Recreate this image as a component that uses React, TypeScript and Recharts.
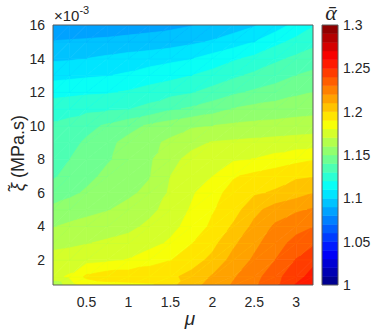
import React from "react";
import { Scatter, ScatterChart, XAxis, YAxis } from "recharts";

// grid (mu along x, xi in 1e-3 MPa.s along y)
const MU = [0.1, 0.3, 0.5, 0.75, 1, 1.25, 1.5, 1.75, 2, 2.25, 2.5, 2.75, 3, 3.2];
const XI = [0.5, 1, 2, 3, 4, 5, 6, 7, 8, 9, 10, 11, 12, 13, 14, 15, 16];

// one row per XI value (bottom to top), one entry per MU value
const ALPHA_ROWS = [
  [1.16, 1.176, 1.184, 1.186, 1.187, 1.188, 1.197, 1.206, 1.214, 1.221, 1.228, 1.238, 1.251, 1.258],
  [1.178, 1.181, 1.192, 1.196, 1.196, 1.197, 1.198, 1.203, 1.211, 1.219, 1.226, 1.237, 1.246, 1.254],
  [1.174, 1.175, 1.1765, 1.178, 1.1805, 1.1855, 1.1895, 1.1955, 1.2025, 1.2135, 1.2215, 1.23, 1.2405, 1.247],
  [1.1668, 1.168, 1.1695, 1.1715, 1.1735, 1.1765, 1.1815, 1.1895, 1.197, 1.208, 1.2175, 1.2255, 1.2335, 1.2382],
  [1.1595, 1.1615, 1.163, 1.1655, 1.1675, 1.172, 1.177, 1.1835, 1.192, 1.2013, 1.2125, 1.2215, 1.2263, 1.2296],
  [1.153, 1.1555, 1.1575, 1.1595, 1.1625, 1.1675, 1.1735, 1.181, 1.189, 1.1955, 1.207, 1.2145, 1.2185, 1.2208],
  [1.1435, 1.1475, 1.1515, 1.1555, 1.1585, 1.162, 1.1715, 1.1785, 1.1865, 1.1935, 1.1985, 1.2012, 1.2055, 1.2098],
  [1.139, 1.1425, 1.147, 1.1525, 1.1565, 1.1595, 1.17, 1.1755, 1.18, 1.189, 1.1925, 1.1955, 1.1985, 1.1994],
  [1.1364, 1.14, 1.1445, 1.149, 1.1535, 1.1585, 1.1675, 1.1725, 1.1755, 1.1785, 1.1803, 1.1835, 1.187, 1.1892],
  [1.1338, 1.137, 1.1415, 1.1475, 1.153, 1.1575, 1.162, 1.1675, 1.1705, 1.1715, 1.1725, 1.1735, 1.1745, 1.175],
  [1.1312, 1.133, 1.137, 1.1415, 1.1465, 1.1515, 1.155, 1.1585, 1.16, 1.1615, 1.1625, 1.163, 1.164, 1.1648],
  [1.1256, 1.1265, 1.1275, 1.1285, 1.1295, 1.133, 1.1385, 1.1415, 1.1455, 1.1505, 1.153, 1.1545, 1.156, 1.1567],
  [1.1166, 1.1175, 1.1185, 1.119, 1.121, 1.124, 1.1265, 1.129, 1.1335, 1.138, 1.1415, 1.1445, 1.148, 1.15],
  [1.1066, 1.1075, 1.1085, 1.1095, 1.1115, 1.1145, 1.117, 1.1198, 1.1235, 1.128, 1.132, 1.1355, 1.14, 1.1424],
  [1.0985, 1.099, 1.1, 1.102, 1.104, 1.1055, 1.1075, 1.1095, 1.114, 1.1185, 1.1225, 1.128, 1.132, 1.135],
  [1.0905, 1.091, 1.0915, 1.092, 1.093, 1.094, 1.0955, 1.098, 1.101, 1.105, 1.11, 1.117, 1.123, 1.127],
  [1.082, 1.083, 1.0835, 1.0845, 1.0855, 1.0865, 1.0875, 1.0895, 1.092, 1.095, 1.099, 1.105, 1.113, 1.119],
];

const X_TICKS = [0.5, 1, 1.5, 2, 2.5, 3];
const Y_TICKS = [2, 4, 6, 8, 10, 12, 14, 16];
const CB_TICKS = [1, 1.05, 1.1, 1.15, 1.2, 1.25, 1.3];

const MU_DOMAIN: [number, number] = [0.1, 3.2];
const XI_DOMAIN: [number, number] = [0.5, 16];
const CB_DOMAIN: [number, number] = [1, 1.3];
const LEVEL_MIN = 1;
const LEVEL_STEP = 0.01;
const LEVEL_COUNT = 30;

// layout
const W = 374;
const H = 334;
const PLOT_W = 260;
const PLOT_H = 260;
const CB_W = 16;
const PX_PER_MU = PLOT_W / (MU_DOMAIN[1] - MU_DOMAIN[0]);
const PX_PER_XI = PLOT_H / (XI_DOMAIN[1] - XI_DOMAIN[0]);
const TEXT = "#262626";
const LINE = "#5a5a5a";
const FONT = "'Liberation Sans', Arial, sans-serif";

const colorbarCells = Array.from({ length: LEVEL_COUNT }, (_, k) => ({
  x: 0.5,
  level: LEVEL_MIN + (k + 0.5) * LEVEL_STEP,
  k,
}));

function jet(t: number) {
  const c = (x: number) => Math.round(255 * Math.max(0, Math.min(1, x)));
  return `rgb(${c(1.5 - Math.abs(4 * t - 3))},${c(1.5 - Math.abs(4 * t - 2))},${c(1.5 - Math.abs(4 * t - 1))})`;
}
const bandColor = (k: number) => jet((k + 0.5) / LEVEL_COUNT);

function bandOf(v: number) {
  const k = Math.floor((v - LEVEL_MIN) / LEVEL_STEP + 1e-9);
  return Math.max(0, Math.min(LEVEL_COUNT - 1, k));
}

type Pt = { x: number; y: number; v: number };

// part of a polygon where the (linear) value is >= level
function clipAbove(poly: Pt[], level: number): Pt[] {
  const out: Pt[] = [];
  for (let k = 0; k < poly.length; k++) {
    const a = poly[k];
    const b = poly[(k + 1) % poly.length];
    const da = a.v - level;
    const db = b.v - level;
    if (da >= 0) out.push(a);
    if (da >= 0 !== db >= 0) {
      const t = da / (da - db);
      out.push({ x: a.x + (b.x - a.x) * t, y: a.y + (b.y - a.y) * t, v: level });
    }
  }
  return out;
}

function triangleBands(tri: Pt[], key: string) {
  const vs = tri.map((p) => p.v);
  const lo = bandOf(Math.min(...vs));
  const hi = bandOf(Math.max(...vs));
  const out: React.ReactNode[] = [];
  for (let k = lo; k <= hi; k++) {
    const poly = k === lo ? tri : clipAbove(tri, LEVEL_MIN + k * LEVEL_STEP);
    if (poly.length < 3) continue;
    const color = bandColor(k);
    out.push(
      <polygon
        key={key + k}
        points={poly.map((p) => `${p.x},${p.y}`).join(" ")}
        fill={color}
        stroke={color}
        strokeWidth={0.7}
        strokeLinejoin="round"
      />
    );
  }
  return out;
}

const cells = XI.slice(0, -1).flatMap((xi, j) =>
  MU.slice(0, -1).map((mu, i) => ({ mu, xi, i, j }))
);

function ContourCell(props: any) {
  const { cx, cy, payload } = props;
  const { i, j } = payload;
  const w = (MU[i + 1] - MU[i]) * PX_PER_MU;
  const h = (XI[j + 1] - XI[j]) * PX_PER_XI;
  const p00 = { x: cx, y: cy, v: ALPHA_ROWS[j][i] };
  const p10 = { x: cx + w, y: cy, v: ALPHA_ROWS[j][i + 1] };
  const p11 = { x: cx + w, y: cy - h, v: ALPHA_ROWS[j + 1][i + 1] };
  const p01 = { x: cx, y: cy - h, v: ALPHA_ROWS[j + 1][i] };
  return (
    <g>
      {triangleBands([p00, p10, p11], `a${i}-${j}-`)}
      {triangleBands([p00, p11, p01], `b${i}-${j}-`)}
    </g>
  );
}

function ColorbarCell(props: any) {
  const { cx, cy, payload } = props;
  const h = PLOT_H / LEVEL_COUNT;
  const color = bandColor(payload.k);
  return (
    <rect x={cx - CB_W / 2} y={cy - h / 2} width={CB_W} height={h} fill={color} stroke={color} strokeWidth={0.5} />
  );
}

const tickStyle = { fill: TEXT, fontSize: 14, fontFamily: FONT };
const layer = { position: "absolute" as const, left: 0, top: 0 };

export default function App() {
  return (
    <div style={{ position: "absolute", left: 0, top: 0, width: W, height: H, background: "#fff", fontFamily: FONT }}>
      {/* filled contours + tick labels */}
      <div style={layer}>
        <ScatterChart width={W} height={H} margin={{ top: 25, right: 61, bottom: 0, left: 0 }}>
          <XAxis
            dataKey="mu"
            type="number"
            domain={MU_DOMAIN}
            ticks={X_TICKS}
            allowDataOverflow
            height={49}
            tickLine={false}
            axisLine={false}
            tickSize={0}
            tickMargin={12}
            tick={tickStyle}
          />
          <YAxis
            dataKey="xi"
            type="number"
            domain={XI_DOMAIN}
            ticks={Y_TICKS}
            allowDataOverflow
            width={53}
            tickLine={false}
            axisLine={false}
            tickSize={0}
            tickMargin={8}
            tick={tickStyle}
          />
          <Scatter data={cells} shape={ContourCell} isAnimationActive={false} />
        </ScatterChart>
      </div>

      {/* colorbar */}
      <div style={layer}>
        <ScatterChart width={W} height={H} margin={{ top: 25, right: 0, bottom: 49, left: 322 }}>
          <XAxis dataKey="x" type="number" domain={[0, 1]} allowDataOverflow hide />
          <YAxis
            dataKey="level"
            orientation="right"
            type="number"
            domain={CB_DOMAIN}
            ticks={CB_TICKS}
            allowDataOverflow
            width={36}
            tickLine={false}
            axisLine={false}
            tickSize={0}
            tickMargin={5}
            tick={tickStyle}
          />
          <Scatter data={colorbarCells} shape={ColorbarCell} isAnimationActive={false} />
        </ScatterChart>
      </div>

      {/* main axes box with inward ticks, drawn over the contours */}
      <div style={layer}>
        <ScatterChart width={W} height={H} margin={{ top: 24, right: 60, bottom: 48, left: 52 }}>
          <XAxis xAxisId="b" type="number" domain={MU_DOMAIN} allowDataOverflow ticks={X_TICKS} height={1} tickSize={-3} tick={false} stroke={LINE} />
          <XAxis xAxisId="t" orientation="top" type="number" domain={MU_DOMAIN} allowDataOverflow ticks={X_TICKS} height={1} tickSize={-3} tick={false} stroke={LINE} />
          <YAxis yAxisId="l" type="number" domain={XI_DOMAIN} allowDataOverflow ticks={Y_TICKS} width={1} tickSize={-3} tick={false} stroke={LINE} />
          <YAxis yAxisId="r" orientation="right" type="number" domain={XI_DOMAIN} allowDataOverflow ticks={Y_TICKS} width={1} tickSize={-3} tick={false} stroke={LINE} />
        </ScatterChart>
      </div>

      {/* colorbar box with inward ticks */}
      <div style={layer}>
        <ScatterChart width={W} height={H} margin={{ top: 24, right: 35, bottom: 48, left: 321 }}>
          <XAxis xAxisId="b" type="number" domain={[0, 1]} allowDataOverflow height={1} tick={false} tickLine={false} stroke={LINE} />
          <XAxis xAxisId="t" orientation="top" type="number" domain={[0, 1]} allowDataOverflow height={1} tick={false} tickLine={false} stroke={LINE} />
          <YAxis yAxisId="l" type="number" domain={CB_DOMAIN} allowDataOverflow width={1} tick={false} tickLine={false} stroke={LINE} />
          <YAxis yAxisId="r" orientation="right" type="number" domain={CB_DOMAIN} allowDataOverflow ticks={CB_TICKS} width={1} tickSize={-3} tick={false} stroke={LINE} />
        </ScatterChart>
      </div>

      <svg width={W} height={H} style={{ ...layer, pointerEvents: "none" }}>
        <text x={54} y={21} fontSize={15} fill={TEXT} fontFamily={FONT}>
          ×10
          <tspan dy={-7} fontSize={11}>
            -3
          </tspan>
        </text>
        <text transform="translate(24,153) rotate(-90)" textAnchor="middle" fontSize={18} fill={TEXT} fontFamily={FONT}>
          <tspan fontStyle="italic">ξ̃</tspan> (MPa.s)
        </text>
        <text x={190} y={325} textAnchor="middle" fontSize={19} fontStyle="italic" fill={TEXT} fontFamily={FONT}>
          μ
        </text>
        <text
          x={331}
          y={20}
          textAnchor="middle"
          fontSize={22}
          fontStyle="italic"
          fill={TEXT}
          fontFamily="'Liberation Serif', 'DejaVu Serif', serif"
        >
          ᾱ
        </text>
      </svg>
    </div>
  );
}
